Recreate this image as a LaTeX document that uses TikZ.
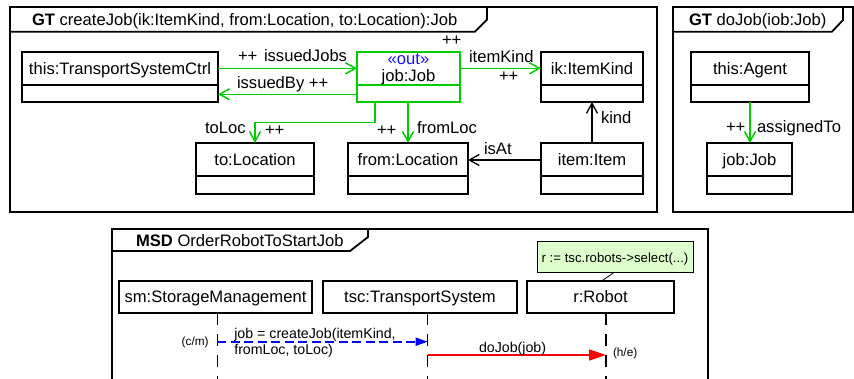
\documentclass[tikz,border=0pt]{standalone}
\usepackage{fontspec}
\setmainfont{Liberation Sans}
\usetikzlibrary{arrows.meta,calc}

\definecolor{gtgreen}{RGB}{0,204,0}
\definecolor{stereoblue}{RGB}{20,20,255}
\definecolor{notefill}{RGB}{221,255,204}
\definecolor{msgred}{RGB}{255,0,0}
\definecolor{msgblue}{RGB}{0,0,255}

% class box: optional colour, name, centre, width, height, label
\newcommand{\classbox}[6][black]{%
  \node[draw=#1, line width=1.3pt, minimum width=#4, minimum height=#5] (#2) at (#3) {};
  \draw[#1, line width=1.3pt] ([yshift=-33pt]#2.north west) -- ([yshift=-33pt]#2.north east);
  \node[big, anchor=base] (#2-label) at ([yshift=-22.5pt]#2.north) {#6};
}

\begin{document}
\begin{tikzpicture}[x=1pt,y=-1pt,
  every node/.style={inner sep=0pt, outer sep=0pt},
  big/.style={font=\fontsize{16.6}{19}\selectfont},
  msgfont/.style={font=\fontsize{14.2}{15.5}\selectfont},
  small/.style={font=\fontsize{11.8}{13}\selectfont},
  notefont/.style={font=\fontsize{13.2}{15}\selectfont},
  framebox/.style={line width=1.8pt},
  assoc/.style={gtgreen, line width=1.5pt, -{Straight Barb[length=10pt,width=11pt]}},
  link/.style={black, line width=1.3pt, -{Straight Barb[length=10pt,width=11pt]}},
  lifehead/.style={draw, line width=1.3pt, big, text height=12pt, text depth=0pt, minimum height=32pt},
  lifeline/.style={line width=1.3pt, dash pattern=on 12pt off 9pt},
  lbl/.style={big, anchor=base west}]

\useasboundingbox (0,0) rectangle (854,379);
\clip (0,0) rectangle (854,379);

% ---------- GT createJob ----------
\draw[framebox] (10,7) rectangle (657,212);
\draw[framebox] (10,31.7) -- (475,31.7) -- (487,19.5) -- (487,7);
\node[big, anchor=base west] (hdr1) at (32,26)
  {\textbf{GT} createJob(ik:ItemKind, from:Location, to:Location):Job};

\classbox{tsc}{120,77}{196pt}{50pt}{this:TransportSystemCtrl}
\classbox{ik}{592,77}{102pt}{50pt}{ik:ItemKind}
\classbox{toloc}{255,168.5}{118pt}{51pt}{to:Location}
\classbox{fromloc}{408,168.5}{120pt}{51pt}{from:Location}
\classbox{item}{592,168.5}{102pt}{51pt}{item:Item}

% created object with stereotype
\node[draw=gtgreen, line width=1.3pt, minimum width=103pt, minimum height=50pt] (job) at (408.5,77) {};
\draw[gtgreen, line width=1.3pt] ([yshift=-33pt]job.north west) -- ([yshift=-33pt]job.north east);
\node[big, anchor=base, text=stereoblue] (job-stereo) at ([yshift=-13pt]job.north) {«out»};
\node[big, anchor=base] (job-label) at ([yshift=-29.7pt]job.north) {job:Job};

% links
\draw[assoc] (tsc.east |- 0,68.3) -- (job.west |- 0,68.3);
\draw[assoc] (job.west |- 0,94.3) -- (tsc.east |- 0,94.3);
\draw[assoc] (job.east |- 0,68.3) -- (ik.west |- 0,68.3);
\draw[assoc] (job.south -| 375,0) -- (375,122.7) -| (toloc.north);
\draw[assoc] (fromloc.north |- job.south) -- (fromloc.north);
\draw[link] (item.west |- 0,160) -- (fromloc.east |- 0,160);
\draw[link] (item.north) -- (ik.south);

\node[lbl] (l-pp1) at (238,61.7) {++};
\node[lbl] (l-issuedJobs) at (264,61.7) {issuedJobs};
\node[lbl] (l-issuedBy) at (237,89) {issuedBy ++};
\node[lbl] (l-pp2) at (442,45.7) {++};
\node[lbl] (l-itemKind) at (469,63) {itemKind};
\node[lbl] (l-pp3) at (499,81.7) {++};
\node[lbl] (l-toLoc) at (205,134) {toLoc};
\node[lbl] (l-pp4) at (265,135.7) {++};
\node[lbl] (l-pp5) at (377,135.7) {++};
\node[lbl] (l-fromLoc) at (417,134) {fromLoc};
\node[lbl] (l-isAt) at (484,155) {isAt};
\node[lbl] (l-kind) at (601,124) {kind};

% ---------- GT doJob ----------
\draw[framebox] (673,7) rectangle (853,212);
\draw[framebox] (673,31.7) -- (832,31.7) -- (843,20) -- (843,7);
\node[big, anchor=base west] (hdr2) at (689,26) {\textbf{GT} doJob(iob:Job)};

\classbox{agent}{750,77}{118pt}{50pt}{this:Agent}
\classbox{job2}{749.5,168.5}{85pt}{51pt}{job:Job}
\draw[assoc] (agent.south) -- (agent.south |- job2.north);
\node[lbl] (l-pp6) at (726,133) {++};
\node[lbl] (l-assignedTo) at (757,133) {assignedTo};

% ---------- MSD OrderRobotToStartJob ----------
\draw[framebox] (112.3,400) -- (112.3,229) -- (707.7,229) -- (707.7,400);
\draw[framebox] (112.3,251) -- (350,251) -- (368,237) -- (368,229);
\node[big, anchor=base west] (hdr3) at (136,247) {\textbf{MSD} OrderRobotToStartJob};

\node[lifehead, minimum width=193pt] (sm) at (215.5,297) {sm:StorageManagement};
\node[lifehead, minimum width=194pt] (ts) at (420,297) {tsc:TransportSystem};
\node[lifehead, minimum width=147pt] (robot) at (600.5,297) {r:Robot};

\node[draw, line width=1pt, fill=notefill, notefont, text height=9.5pt, text depth=0pt,
      minimum width=156pt, minimum height=31pt] (note) at (615,257.5) {r := tsc.robots->select(...)};
\draw[line width=0.8pt] (note.south -| 613.3,0) -- (robot.north -| 601.7,0);

\coordinate (smEnd) at (217.3,390);
\coordinate (tsEnd) at (427.7,390);
\coordinate (rEnd) at (606,390);
\draw[lifeline] (sm.south -| smEnd) -- (smEnd);
\draw[lifeline] (ts.south -| tsEnd) -- (tsEnd);
\draw[lifeline] (robot.south -| rEnd) -- (rEnd);

\coordinate (m1a) at (217.3,341.7);
\coordinate (m1b) at (427.7,341.7);
\coordinate (m2a) at (427.7,355);
\coordinate (m2b) at (606,355);
\draw[draw=msgblue, line width=1.7pt, dash pattern=on 9pt off 4.5pt,
      -{Triangle[length=12pt,width=8pt,fill=msgblue]}] (m1a) -- (m1b);
\draw[draw=msgred, line width=1.6pt, -{Triangle[length=17pt,width=11pt,fill=msgred]}] (m2a) -- (m2b);

% the base anchor of a two-line node sits on its last line
\node[msgfont, anchor=base west, align=left] (m1lbl) at (234.3,354)
  {job = createJob(itemKind,\\fromLoc, toLoc)};
\node[small, anchor=base west] (m1mode) at (181.7,345) {(c/m)};
\node[msgfont, anchor=base west] (m2lbl) at (479,352.3) {doJob(job)};
\node[small, anchor=base west] (m2mode) at (613,356.7) {(h/e)};

\end{tikzpicture}
\end{document}
